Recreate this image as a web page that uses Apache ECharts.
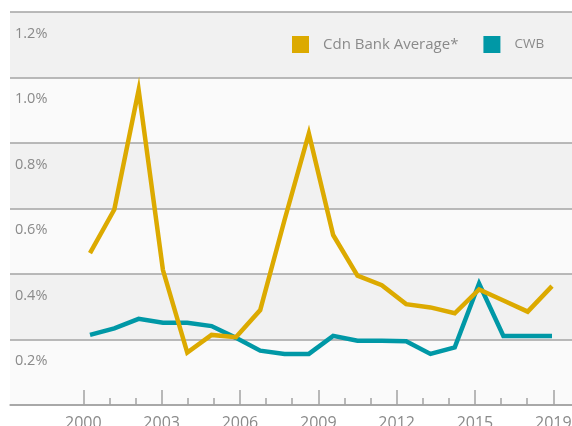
<!DOCTYPE html>
<html>
<head>
<meta charset="utf-8">
<script src="https://cdn.jsdelivr.net/npm/echarts@6/dist/echarts.min.js"></script>
<style>
html,body{margin:0;padding:0;background:#fff;}
#c{width:572px;height:426px;}
</style>
</head>
<body>
<div id="c"></div>
<script>
const years = [2000,2001,2002,2003,2004,2005,2006,2007,2008,2009,2010,2011,2012,2013,2014,2015,2016,2017,2018,2019];
const cdnBankAverage = [0.464,0.597,0.962,0.412,0.160,0.214,0.207,0.290,0.565,0.829,0.519,0.395,0.366,0.308,0.298,0.280,0.353,0.319,0.285,0.363];
const cwb = [0.214,0.234,0.263,0.251,0.251,0.241,0.205,0.166,0.156,0.156,0.211,0.196,0.196,0.195,0.156,0.176,0.371,0.211,0.211,0.211];
const tickIndex = [0,1,2,3,4,5,6,7,8,9,10,11,12,13,14,15,16,17,18];
const majorTickIndex = [0,3,6,9,12,15,18];
const tickLabels = ['2000','2003','2006','2009','2012','2015','2019'];
const yTicks = [0.2,0.4,0.6,0.8,1.0,1.2];

const GOLD = '#dcaa00';
const TEAL = '#0098a6';
const GRID = '#a3a3a3';
const TEXT = '#8a8a8a';
const FONT = 'Open Sans';

const chart = echarts.init(document.getElementById('c'), null, {renderer:'canvas'});
chart.setOption({
  animation: false,
  backgroundColor: '#ffffff',
  grid: {left: 10, right: 0, top: 12, bottom: 21, containLabel: false, outerBoundsMode: 'none'},
  legend: {
    left: 287, top: 31,
    itemWidth: 17, itemHeight: 17, itemGap: 25,
    icon: 'rect',
    data: [
      {name: 'Cdn Bank Average*', textStyle: {fontSize: 15}},
      {name: 'CWB', textStyle: {fontSize: 13.5}}
    ],
    textStyle: {color: TEXT, fontFamily: FONT, fontSize: 15, padding: [0,0,0,9]}
  },
  xAxis: [
    {type: 'value', min: 1996.710, max: 2019.822, show: false},
    {
      type: 'value', min: -2.807, max: 18.716, position: 'bottom',
      axisLine: {show: true, lineStyle: {color: GRID, width: 1.5}},
      axisTick: {show: true, customValues: majorTickIndex, length: 15, inside: true, lineStyle: {color: GRID, width: 1.5}},
      axisLabel: {
        show: true, customValues: majorTickIndex, margin: 10,
        color: TEXT, fontFamily: FONT, fontSize: 16,
        formatter: function (v) {
          const i = majorTickIndex.indexOf(Math.round(v));
          return i >= 0 ? tickLabels[i] : '';
        }
      },
      splitLine: {show: false}
    },
    {
      type: 'value', min: -2.807, max: 18.716, position: 'bottom',
      axisLine: {show: false},
      axisTick: {show: true, customValues: tickIndex, length: 7, inside: true, lineStyle: {color: GRID, width: 1.5}},
      axisLabel: {show: false},
      splitLine: {show: false}
    }
  ],
  yAxis: {
    type: 'value', min: 0, max: 1.2, interval: 0.2,
    axisLine: {show: false},
    axisTick: {show: false},
    splitLine: {show: true, lineStyle: {color: GRID, width: 1.5}},
    splitArea: {show: true, areaStyle: {color: ['#fafafa', '#f1f1f1']}},
    axisLabel: {
      inside: true, margin: 5, align: 'left', verticalAlign: 'top',
      padding: [14,0,0,0],
      color: TEXT, fontFamily: FONT, fontSize: 14.5,
      formatter: function (v) {
        const r = Math.round(v * 10) / 10;
        return yTicks.some(t => Math.abs(t - r) < 1e-6) ? r.toFixed(1) + '%' : '';
      }
    }
  },
  series: [
    {
      name: 'CWB', type: 'line', xAxisIndex: 0,
      data: years.map((y, i) => [y, cwb[i]]),
      symbol: 'none', itemStyle: {color: TEAL},
      lineStyle: {color: TEAL, width: 4.5, join: 'miter'}, z: 2
    },
    {
      name: 'Cdn Bank Average*', type: 'line', xAxisIndex: 0,
      data: years.map((y, i) => [y, cdnBankAverage[i]]),
      symbol: 'none', itemStyle: {color: GOLD},
      lineStyle: {color: GOLD, width: 4.5, join: 'miter'}, z: 3
    }
  ]
});
</script>
</body>
</html>
